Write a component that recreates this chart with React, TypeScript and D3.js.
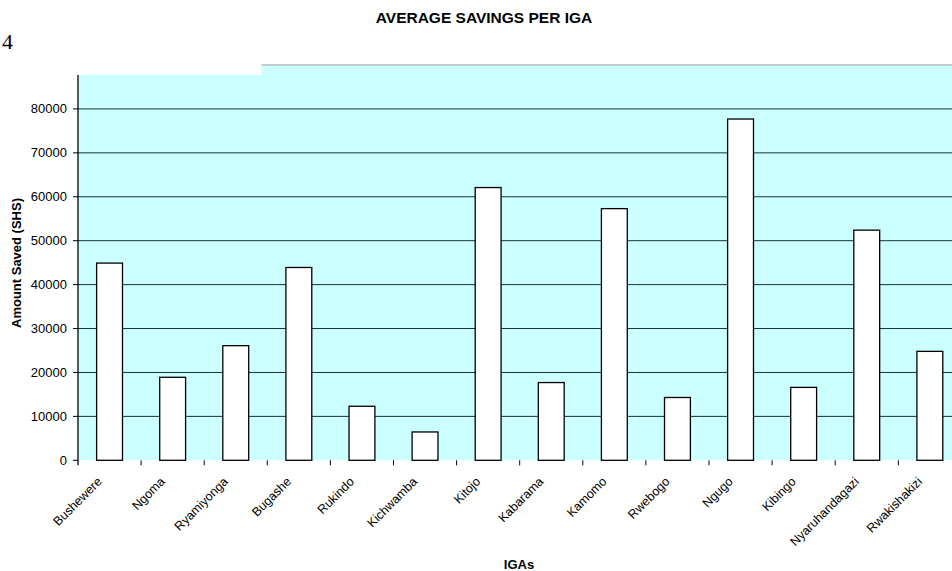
import { useEffect, useRef } from "react";
import * as d3 from "d3";

const categories = [
  "Bushewere", "Ngoma", "Ryamiyonga", "Bugashe", "Rukindo", "Kichwamba", "Kitojo",
  "Kabarama", "Kamomo", "Rwebogo", "Ngugo", "Kibingo", "Nyaruhandagazi", "Rwakishakizi",
];
const savings = [44900, 18900, 26100, 43900, 12300, 6450, 62100, 17700, 57300, 14300, 77700, 16600, 52400, 24800];
const yTicks = [0, 10000, 20000, 30000, 40000, 50000, 60000, 70000, 80000];

export default function App() {
  const svgRef = useRef(null);
  const width = 952;
  const height = 571;

  useEffect(() => {
    const left = 78, top = 65, bottom = 460.3;
    const band = 63.1;

    const svg = d3.select(svgRef.current);
    svg.selectAll("*").remove();

    const x = d3.scaleBand<string>()
      .domain(categories)
      .range([left, left + band * categories.length])
      .paddingInner(0.59)
      .paddingOuter(0.295);
    const y = d3.scaleLinear().domain([0, 90000]).range([bottom, top]);
    const xRight = left + band * categories.length;

    // page number left over from the document
    svg.append("text").attr("x", 2).attr("y", 49)
      .style("font-family", "'Liberation Serif', 'Times New Roman', serif")
      .style("font-size", "22px").text("4");

    // plot background
    svg.append("rect")
      .attr("x", left).attr("y", top)
      .attr("width", xRight - left).attr("height", bottom - top)
      .attr("fill", "#CCFFFF");
    svg.append("line")
      .attr("x1", left).attr("x2", xRight).attr("y1", top).attr("y2", top)
      .attr("stroke", "#999").attr("stroke-width", 1);

    // gridlines
    svg.append("g").selectAll("line")
      .data(yTicks.filter(d => d > 0))
      .join("line")
      .attr("x1", left).attr("x2", xRight)
      .attr("y1", d => y(d)).attr("y2", d => y(d))
      .attr("stroke", "#173333").attr("stroke-width", 1);

    // bars
    svg.append("g").selectAll("rect")
      .data(savings)
      .join("rect")
      .attr("x", (_, i) => x(categories[i])!)
      .attr("y", d => y(d))
      .attr("width", x.bandwidth())
      .attr("height", d => bottom - y(d))
      .attr("fill", "#fff")
      .attr("stroke", "#000")
      .attr("stroke-width", 1.3);

    // white patch over the top-left corner
    svg.append("rect")
      .attr("x", left - 0.5).attr("y", top - 1)
      .attr("width", 262 - left).attr("height", 11)
      .attr("fill", "#fff");

    const font = "'Liberation Sans', Arial, sans-serif";

    // y axis
    const yAxis = svg.append("g");
    yAxis.append("line")
      .attr("x1", left).attr("x2", left).attr("y1", 75).attr("y2", bottom)
      .attr("stroke", "#000").attr("stroke-width", 1.3);
    yAxis.selectAll("line.tick")
      .data(yTicks)
      .join("line")
      .attr("class", "tick")
      .attr("x1", left - 5).attr("x2", left)
      .attr("y1", d => y(d)).attr("y2", d => y(d))
      .attr("stroke", "#000");
    yAxis.selectAll("text")
      .data(yTicks)
      .join("text")
      .attr("x", left - 11).attr("y", d => y(d)).attr("dy", "0.35em")
      .attr("text-anchor", "end")
      .style("font-family", font).style("font-size", "13px")
      .text(d => d);

    // x axis
    const xAxis = svg.append("g");
    xAxis.append("line")
      .attr("x1", left).attr("x2", xRight).attr("y1", bottom).attr("y2", bottom)
      .attr("stroke", "#000").attr("stroke-width", 1.3);
    xAxis.selectAll("line")
      .data(d3.range(categories.length + 1))
      .join("line")
      .attr("x1", i => left + i * band).attr("x2", i => left + i * band)
      .attr("y1", bottom).attr("y2", bottom + 5)
      .attr("stroke", "#000");
    xAxis.selectAll("text")
      .data(categories)
      .join("text")
      .attr("text-anchor", "end")
      .attr("transform", d => `translate(${x(d)! + x.bandwidth() / 2 - 7},${bottom + 22}) rotate(-45)`)
      .style("font-family", font).style("font-size", "12.5px")
      .text(d => d);

    // titles
    svg.append("text")
      .attr("x", 484).attr("y", 23).attr("text-anchor", "middle")
      .style("font-family", font).style("font-size", "15.5px").style("font-weight", "700")
      .text("AVERAGE SAVINGS PER IGA");
    svg.append("text")
      .attr("x", 519).attr("y", 569).attr("text-anchor", "middle")
      .style("font-family", font).style("font-size", "13px").style("font-weight", "700")
      .text("IGAs");
    svg.append("text")
      .attr("transform", `translate(21,263) rotate(-90)`)
      .attr("text-anchor", "middle")
      .style("font-family", font).style("font-size", "13px").style("font-weight", "700")
      .text("Amount Saved (SHS)");
  }, []);

  return (
    <svg
      ref={svgRef}
      width={width}
      height={height}
      style={{ position: "absolute", left: 0, top: 0, display: "block", background: "#fff" }}
    />
  );
}
